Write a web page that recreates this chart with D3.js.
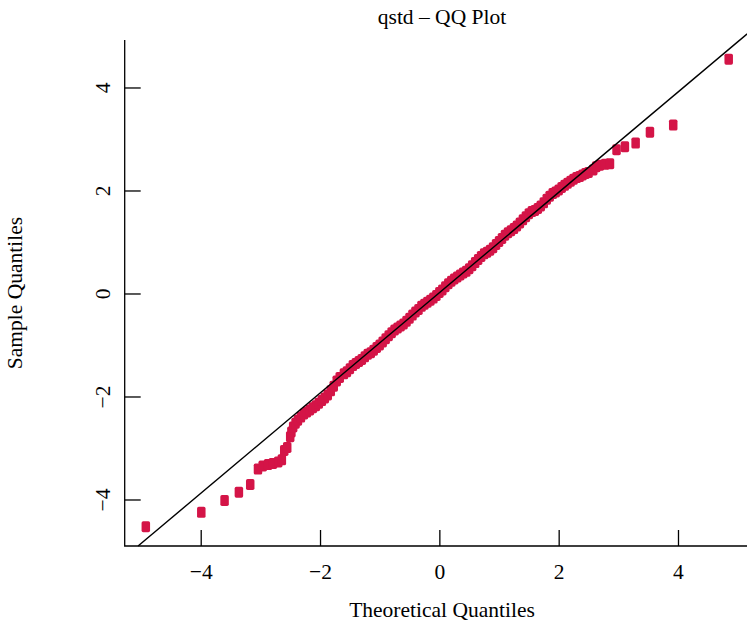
<!DOCTYPE html>
<html>
<head>
<meta charset="utf-8">
<script src="https://cdn.jsdelivr.net/npm/d3@7"></script>
<style>
  html, body { margin: 0; padding: 0; background: #fff; }
  svg { display: block; }
  text { font-family: "Liberation Serif", "DejaVu Serif", serif; fill: #000; }
</style>
</head>
<body>
<svg id="chart" width="747" height="625"></svg>
<script>
// ---- data ----
const title = "qstd \u2013 QQ Plot";
const xLabel = "Theoretical Quantiles";
const yLabel = "Sample Quantiles";
const xTicks = [-4, -2, 0, 2, 4];
const yTicks = [-4, -2, 0, 2, 4];

// theoretical quantiles (x) and sample quantiles (y)
const theoretical = [
  -4.92, -3.99, -3.60, -3.36, -3.17,
  -3.04, -2.96, -2.87, -2.79, -2.70, -2.64,
  -2.60, -2.55, -2.50, -2.48,
  -2.45, -2.41, -2.37, -2.32, -2.27, -2.22, -2.17, -2.12, -2.07, -2.02,
  -1.97, -1.92, -1.87, -1.82, -1.77, -1.72, -1.67,
  -1.60, -1.55, -1.50, -1.45, -1.40, -1.35, -1.30, -1.25, -1.20, -1.15,
  -1.10, -1.05, -1.00, -0.95, -0.90, -0.85, -0.80, -0.75, -0.70, -0.65,
  -0.60, -0.55, -0.50, -0.45, -0.40, -0.35, -0.30, -0.25, -0.20, -0.15,
  -0.10, -0.05, 0.00, 0.05, 0.10, 0.15, 0.20, 0.25, 0.30, 0.35,
  0.40, 0.45, 0.50, 0.55, 0.60, 0.65, 0.70, 0.75, 0.80, 0.85,
  0.90, 0.95, 1.00, 1.05, 1.10, 1.15, 1.20, 1.25, 1.30, 1.35,
  1.40, 1.45, 1.50, 1.55, 1.60, 1.65, 1.70, 1.75, 1.80, 1.85,
  1.90, 1.95, 2.00, 2.05, 2.10, 2.15, 2.20, 2.25, 2.30, 2.35,
  2.40, 2.45, 2.50,
  2.58, 2.63, 2.69, 2.78, 2.86,
  2.97, 3.11, 3.29, 3.53, 3.92, 4.85
];
const sample = [
  -4.53, -4.25, -4.02, -3.86, -3.71,
  -3.41, -3.35, -3.32, -3.30, -3.27, -3.23,
  -3.05, -2.99, -2.78, -2.69,
  -2.59, -2.52, -2.46, -2.40, -2.34, -2.30, -2.26, -2.22, -2.18, -2.13,
  -2.08, -2.03, -1.97, -1.89, -1.80, -1.70, -1.63,
  -1.56, -1.52, -1.46, -1.40, -1.36, -1.32, -1.28, -1.23, -1.18, -1.15,
  -1.10, -1.05, -1.00, -0.94, -0.88, -0.82, -0.76, -0.71, -0.67, -0.63,
  -0.59, -0.54, -0.48, -0.42, -0.36, -0.31, -0.25, -0.21, -0.17, -0.13,
  -0.09, -0.04, 0.02, 0.07, 0.13, 0.19, 0.24, 0.28, 0.32, 0.36,
  0.40, 0.43, 0.48, 0.54, 0.60, 0.66, 0.72, 0.77, 0.80, 0.84,
  0.89, 0.95, 1.01, 1.07, 1.13, 1.18, 1.22, 1.26, 1.31, 1.37,
  1.43, 1.49, 1.55, 1.59, 1.61, 1.65, 1.70, 1.76, 1.83, 1.89,
  1.94, 1.97, 2.01, 2.06, 2.10, 2.14, 2.18, 2.22, 2.25, 2.27,
  2.30, 2.33, 2.35,
  2.40, 2.46, 2.49, 2.51, 2.52,
  2.79, 2.85, 2.92, 3.13, 3.27, 4.55
];

// reference line (qqline): intercept and slope
const lineIntercept = 0.015;
const lineSlope = 0.974;
const lineXRange = [-5.05, 5.16];

// ---- drawing ----
const svg = d3.select("#chart");
const plot = { left: 124.7, right: 754, top: 40, bottom: 546 };

const x = d3.scaleLinear().domain([-5.274, 5.274]).range([plot.left, plot.right]);
const y = d3.scaleLinear().domain([-4.903, 4.922]).range([plot.bottom, plot.top]);

const points = theoretical.map((t, i) => ({ t, s: sample[i] }));

// points
const mw = 8.5, mh = 11;
svg.append("g")
  .selectAll("rect")
  .data(points)
  .join("rect")
  .attr("x", d => x(d.t) - mw / 2)
  .attr("y", d => y(d.s) - mh / 2)
  .attr("width", mw)
  .attr("height", mh)
  .attr("rx", 1.7)
  .attr("fill", "#D41447");

// qq line
svg.append("line")
  .attr("x1", x(lineXRange[0]))
  .attr("y1", y(lineIntercept + lineSlope * lineXRange[0]))
  .attr("x2", x(lineXRange[1]))
  .attr("y2", y(lineIntercept + lineSlope * lineXRange[1]))
  .attr("stroke", "#000")
  .attr("stroke-width", 1.4);

// axes (inward ticks)
const fmt = d => (d < 0 ? "\u2212" + Math.abs(d) : String(d));
const fontSize = 21.5;

const gx = svg.append("g")
  .attr("transform", `translate(0,${plot.bottom})`)
  .call(d3.axisBottom(x).tickValues(xTicks).tickSize(-16).tickFormat(fmt));
gx.select(".domain").remove();
gx.selectAll(".tick line").attr("stroke", "#000").attr("stroke-width", 1.3);
gx.selectAll(".tick text")
  .attr("y", 33).attr("dy", 0)
  .style("font-family", '"Liberation Serif", serif')
  .style("font-size", fontSize + "px");

const gy = svg.append("g")
  .attr("transform", `translate(${plot.left},0)`)
  .call(d3.axisLeft(y).tickValues(yTicks).tickSize(-16).tickFormat(fmt));
gy.select(".domain").remove();
gy.selectAll(".tick line").attr("stroke", "#000").attr("stroke-width", 1.3);
gy.selectAll(".tick text")
  .attr("transform", "rotate(-90)")
  .attr("x", 0).attr("y", -15).attr("dy", 0)
  .attr("text-anchor", "middle")
  .style("font-family", '"Liberation Serif", serif')
  .style("font-size", fontSize + "px");

// L-shaped frame
svg.append("path")
  .attr("d", `M${plot.left},${plot.top}V${plot.bottom}H747`)
  .attr("fill", "none")
  .attr("stroke", "#000")
  .attr("stroke-width", 1.3);

// titles
svg.append("text")
  .attr("x", 442).attr("y", 23.5)
  .attr("text-anchor", "middle")
  .style("font-size", fontSize + "px")
  .text(title);

svg.append("text")
  .attr("x", 442).attr("y", 617)
  .attr("text-anchor", "middle")
  .style("font-size", fontSize + "px")
  .text(xLabel);

svg.append("text")
  .attr("transform", `translate(21.5,293) rotate(-90)`)
  .attr("text-anchor", "middle")
  .style("font-size", fontSize + "px")
  .text(yLabel);
</script>
</body>
</html>
